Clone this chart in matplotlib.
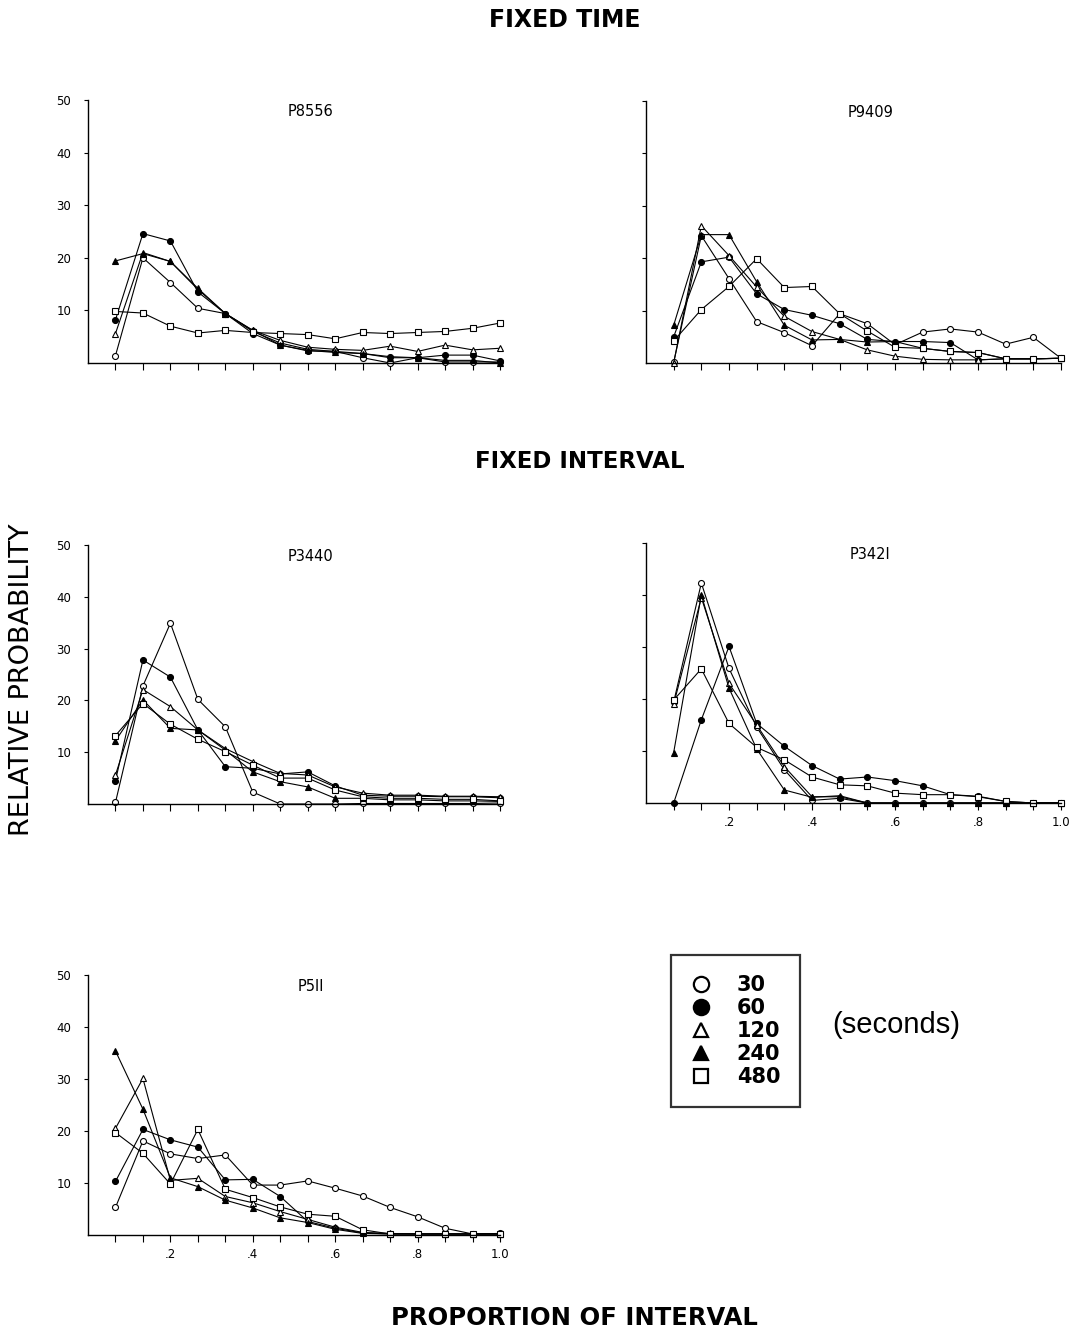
import matplotlib.pyplot as plt
from matplotlib.lines import Line2D
import numpy as np

W, H = 1075, 1333

# proportion of interval: 15 bins
x = np.arange(1, 16) / 15.0
durations = ['30', '60', '120', '240', '480']
markers = ['o', 'o', '^', '^', 's']
filled = [False, True, False, True, False]

# FIXED TIME - P8556
p8556_30 = [1.4, 20.0, 15.3, 10.4, 9.4, 6.0, 3.8, 2.6, 2.2, 1.0, 0.0, 1.0, 0.2, 0.2, 0.2]
p8556_60 = [8.2, 24.6, 23.2, 13.5, 9.4, 5.6, 3.4, 2.3, 2.2, 1.8, 1.2, 1.0, 1.5, 1.5, 0.4]
p8556_120 = [5.6, 21.0, 19.3, 14.2, 9.4, 6.2, 4.3, 3.0, 2.6, 2.4, 3.2, 2.2, 3.4, 2.5, 2.8]
p8556_240 = [19.4, 20.8, 19.3, 14.0, 9.4, 6.2, 3.4, 2.4, 2.0, 1.8, 1.0, 1.0, 0.5, 0.5, 0.0]
p8556_480 = [9.8, 9.5, 7.0, 5.7, 6.2, 5.8, 5.6, 5.4, 4.6, 5.8, 5.6, 5.8, 6.0, 6.6, 7.6]

# FIXED TIME - P9409
p9409_30 = [0.1, 24.3, 16.1, 7.9, 5.8, 3.3, 9.4, 7.5, 3.5, 5.9, 6.5, 5.9, 3.6, 4.9, 0.9]
p9409_60 = [5.0, 19.3, 20.2, 13.2, 10.2, 9.1, 7.5, 4.5, 4.1, 4.1, 3.9, 0.6, 0.8, 0.8, 0.9]
p9409_120 = [0.0, 26.2, 20.5, 14.5, 8.9, 6.0, 4.5, 2.5, 1.3, 0.7, 0.6, 0.6, 0.8, 0.8, 0.9]
p9409_240 = [7.2, 24.5, 24.5, 15.5, 7.2, 4.4, 4.5, 4.0, 4.1, 2.8, 2.2, 2.0, 0.8, 0.8, 0.9]
p9409_480 = [4.2, 10.2, 14.6, 19.9, 14.4, 14.6, 9.4, 6.1, 3.0, 2.8, 2.2, 2.0, 0.8, 0.8, 0.9]

# FIXED INTERVAL - P3440
p3440_30 = [0.3, 22.8, 34.9, 20.2, 14.9, 2.3, 0.0, 0.0, 0.0, 0.1, 0.1, 0.1, 0.1, 0.1, 0.2]
p3440_60 = [4.5, 27.8, 24.5, 14.3, 7.2, 6.9, 5.8, 6.2, 3.5, 1.7, 1.5, 1.5, 1.4, 1.4, 1.2]
p3440_120 = [5.6, 22.1, 18.8, 14.3, 10.7, 8.2, 5.9, 5.6, 3.3, 2.1, 1.7, 1.7, 1.5, 1.5, 1.4]
p3440_240 = [12.2, 20.1, 14.6, 14.3, 10.4, 6.2, 4.3, 3.3, 1.1, 1.1, 0.8, 0.8, 0.6, 0.6, 0.5]
p3440_480 = [13.2, 19.4, 15.4, 12.5, 10.1, 7.5, 5.0, 5.0, 2.7, 1.4, 1.1, 1.1, 0.9, 0.9, 0.6]

# FIXED INTERVAL - P3421
p3421_30 = [19.4, 42.3, 25.9, 14.6, 6.4, 0.5, 0.9, 0.0, 0.0, 0.0, 0.0, 0.0, 0.0, 0.0, 0.0]
p3421_60 = [0.0, 16.0, 30.1, 15.3, 10.9, 7.2, 4.6, 5.0, 4.3, 3.3, 1.6, 1.3, 0.3, 0.0, 0.0]
p3421_120 = [19.0, 39.5, 23.0, 15.0, 7.0, 1.2, 1.2, 0.0, 0.0, 0.0, 0.0, 0.0, 0.0, 0.0, 0.0]
p3421_240 = [9.7, 40.0, 22.1, 10.4, 2.5, 1.1, 1.4, 0.0, 0.0, 0.0, 0.0, 0.0, 0.0, 0.0, 0.0]
p3421_480 = [19.8, 25.8, 15.3, 10.7, 8.3, 5.0, 3.5, 3.3, 1.9, 1.6, 1.6, 1.2, 0.3, 0.0, 0.0]

# FIXED INTERVAL - P511
p511_30 = [5.3, 18.1, 15.6, 14.7, 15.4, 9.6, 9.6, 10.4, 9.0, 7.5, 5.3, 3.5, 1.3, 0.2, 0.3]
p511_60 = [10.3, 20.3, 18.3, 16.9, 10.6, 10.7, 7.4, 2.6, 1.3, 0.4, 0.2, 0.2, 0.2, 0.2, 0.2]
p511_120 = [20.5, 30.1, 10.5, 10.9, 7.4, 6.2, 4.5, 3.0, 1.5, 0.5, 0.3, 0.2, 0.2, 0.2, 0.2]
p511_240 = [35.4, 24.2, 11.0, 9.3, 6.7, 5.2, 3.3, 2.4, 1.1, 0.3, 0.2, 0.2, 0.2, 0.2, 0.2]
p511_480 = [19.7, 15.7, 9.8, 20.3, 8.8, 7.2, 5.4, 4.0, 3.6, 1.0, 0.2, 0.2, 0.2, 0.2, 0.2]

yticks = [10, 20, 30, 40, 50]
xlabel_ticks = {3: '.2', 6: '.4', 9: '.6', 12: '.8', 15: '1.0'}

# (name, series, pixel box left/right/top/bottom, y labels, x labels)
panels = [
    ('P8556', [p8556_30, p8556_60, p8556_120, p8556_240, p8556_480], (88, 500, 100, 363), True, False),
    ('P9409', [p9409_30, p9409_60, p9409_120, p9409_240, p9409_480], (646, 1061, 101, 363), False, False),
    ('P3440', [p3440_30, p3440_60, p3440_120, p3440_240, p3440_480], (88, 500, 545, 804), True, False),
    ('P342I', [p3421_30, p3421_60, p3421_120, p3421_240, p3421_480], (646, 1061, 543, 803), False, True),
    ('P5II', [p511_30, p511_60, p511_120, p511_240, p511_480], (88, 500, 975, 1235), True, True),
]

fig = plt.figure(figsize=(W / 100, H / 100), dpi=100)

for name, series, (l, r, t, b), ylab, xlab in panels:
    ax = fig.add_axes([l / W, 1 - b / H, (r - l) / W, (b - t) / H])
    for vals, m, f in zip(series, markers, filled):
        ax.plot(x, vals, color='black', lw=0.8, marker=m, ms=4.3 if m != 's' else 3.8,
                mfc='black' if f else 'white', mec='black', mew=0.8, clip_on=False)
    ax.set_xlim(0, 1.0)
    ax.set_ylim(0, 50)
    for s in ['top', 'right']:
        ax.spines[s].set_visible(False)
    for s in ['left', 'bottom']:
        ax.spines[s].set_linewidth(1.0)
    ax.set_xticks(x)
    if xlab:
        ax.set_xticklabels([xlabel_ticks.get(k, '') for k in range(1, 16)])
    else:
        ax.set_xticklabels([])
    ax.set_yticks(yticks)
    if ylab:
        ax.set_yticklabels([str(v) for v in yticks])
    else:
        ax.set_yticklabels([])
    ax.tick_params(axis='x', direction='out', length=5, width=0.8, labelsize=8.5, pad=4)
    ax.tick_params(axis='y', direction='out', length=3, width=0.8, labelsize=8.5, pad=9)
    ax.text(0.54, 0.985, name, transform=ax.transAxes, ha='center', va='top', fontsize=10.5)

# section titles
fig.text(565 / W, 1 - 20 / H, 'FIXED TIME', ha='center', va='center', fontsize=17, fontweight='bold')
fig.text(580 / W, 1 - 462 / H, 'FIXED INTERVAL', ha='center', va='center', fontsize=16.5,
         fontweight='bold')
fig.text(574 / W, 1 - 1318 / H, 'PROPORTION OF INTERVAL', ha='center', va='center', fontsize=17.5,
         fontweight='bold')
fig.text(22 / W, 1 - 680 / H, 'RELATIVE PROBABILITY', ha='center', va='center', fontsize=19.5,
         rotation=90)

# legend
handles = [Line2D([], [], ls='none', marker=m, color='black', ms=11 if m == 'o' else 9.5,
                  mfc='black' if f else 'white', mec='black', mew=1.6)
           for m, f in zip(markers, filled)]
leg = fig.legend(handles, durations, loc='upper left', bbox_to_anchor=(671 / W, 1 - 955 / H),
                 borderaxespad=0, frameon=True, fancybox=False, edgecolor='black', handlelength=1.0,
                 handletextpad=1.2, labelspacing=0.15, borderpad=0.95,
                 prop={'size': 15, 'weight': 'bold'})
leg.get_frame().set_linewidth(1.6)
fig.text(896 / W, 1 - 1025 / H, '(seconds)', ha='center', va='center', fontsize=21,
         family='Liberation Sans')

fig.savefig('out.png', dpi=100)
